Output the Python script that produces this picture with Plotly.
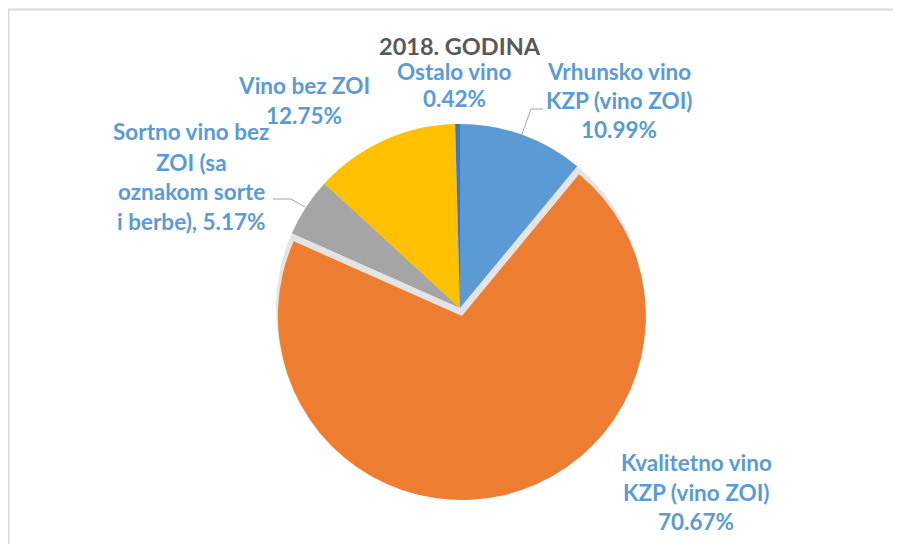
import plotly.graph_objects as go

# ---- data ----
categories = [
    "Vrhunsko vino KZP (vino ZOI)",
    "Kvalitetno vino KZP (vino ZOI)",
    "Sortno vino bez ZOI (sa oznakom sorte i berbe)",
    "Vino bez ZOI",
    "Ostalo vino",
]
values = [10.99, 70.67, 5.17, 12.75, 0.42]
colors = ["#5B9BD5", "#ED7D31", "#A5A5A5", "#FFC000", "#4472C4"]
pulls = [0, 0.045, 0, 0, 0]
title_text = "2018. GODINA"

# label wrapping (words per line) and separator before the percentage
wrap_words = [[2, 3, 1], [2, 3, 1], [3, 2, 2, 3], [3, 1], [2, 1]]
pct_sep = [" ", " ", ", ", " ", " "]

# label line centre positions (pixels) for each category
label_pos = [
    (619, [71, 100, 130]),
    (696, [462, 492, 521]),
    (191, [132, 162, 191, 221]),
    (304, [86, 116]),
    (454, [71, 99]),
]

W, H = 901, 544
OFF = 8  # page body margin


def px(x):
    return (x - OFF) / W


def py(y):
    return 1 - (y - OFF) / H


def label_lines(cat, val, sep, spec):
    words = (cat + sep.rstrip() + " " + f"{val:.2f}%").split(" ")
    lines, i = [], 0
    for n in spec:
        lines.append(" ".join(words[i:i + n]))
        i += n
    return lines


cx, cy, r = 460, 308, 184
maxpull = max(pulls)
box = 2 * r * (1 + maxpull)
yc = py(cy)
xc = px(cx)
dom_front = dict(x=[xc - 0.25, xc + 0.25], y=[yc - box / 2 / H, yc + box / 2 / H])
box_bg = 2 * r
dom_bg = dict(x=[xc - 0.25, xc + 0.25], y=[yc - box_bg / 2 / H, yc + box_bg / 2 / H])

fig = go.Figure()
# soft grey underlay (Excel-style shadow in the exploded gap)
fig.add_trace(go.Pie(
    labels=categories, values=values, sort=False, direction="clockwise",
    marker=dict(colors=["#E4E4E4"] * len(values), line=dict(width=0)),
    textinfo="none", hoverinfo="skip", domain=dom_bg, showlegend=False,
))
fig.add_trace(go.Pie(
    labels=categories, values=values, sort=False, direction="clockwise",
    marker=dict(colors=colors, line=dict(width=0)),
    pull=pulls, textinfo="none", domain=dom_front, showlegend=False,
))

annotations = [dict(
    text=f"<b>{title_text}</b>", x=px(459.5), y=py(46), xref="paper", yref="paper",
    xanchor="center", yanchor="middle", showarrow=False,
    font=dict(family="Lato", size=23.5, color="#595959"),
)]
for cat, val, sep, spec, (lx, lys) in zip(categories, values, pct_sep, wrap_words, label_pos):
    for line, ly in zip(label_lines(cat, val, sep, spec), lys):
        annotations.append(dict(
            text=f"<b>{line}</b>", x=px(lx), y=py(ly), xref="paper", yref="paper",
            xanchor="center", yanchor="middle", showarrow=False,
            font=dict(family="Lato", size=22.5, color="#5B9BD5"),
        ))

lc = "#A6A6A6"
shapes = [
    # chart frame (top and left edges visible)
    dict(type="rect", xref="paper", yref="paper", x0=px(8.5), y0=py(580), x1=px(940), y1=py(9.5),
         line=dict(color="#D9D9D9", width=2), fillcolor="rgba(0,0,0,0)", layer="below"),
    # leader lines
    dict(type="path", xref="paper", yref="paper",
         path=f"M {px(521.7)} {py(135)} L {px(531)} {py(109)} L {px(543)} {py(109)}",
         line=dict(color=lc, width=1)),
    dict(type="path", xref="paper", yref="paper",
         path=f"M {px(273)} {py(199)} L {px(291)} {py(199)} L {px(305)} {py(207)}",
         line=dict(color=lc, width=1)),
]

fig.update_layout(
    width=W, height=H, margin=dict(l=0, r=0, t=0, b=0),
    paper_bgcolor="white", plot_bgcolor="white",
    annotations=annotations, shapes=shapes, showlegend=False,
)
fig.write_html("out.html")
